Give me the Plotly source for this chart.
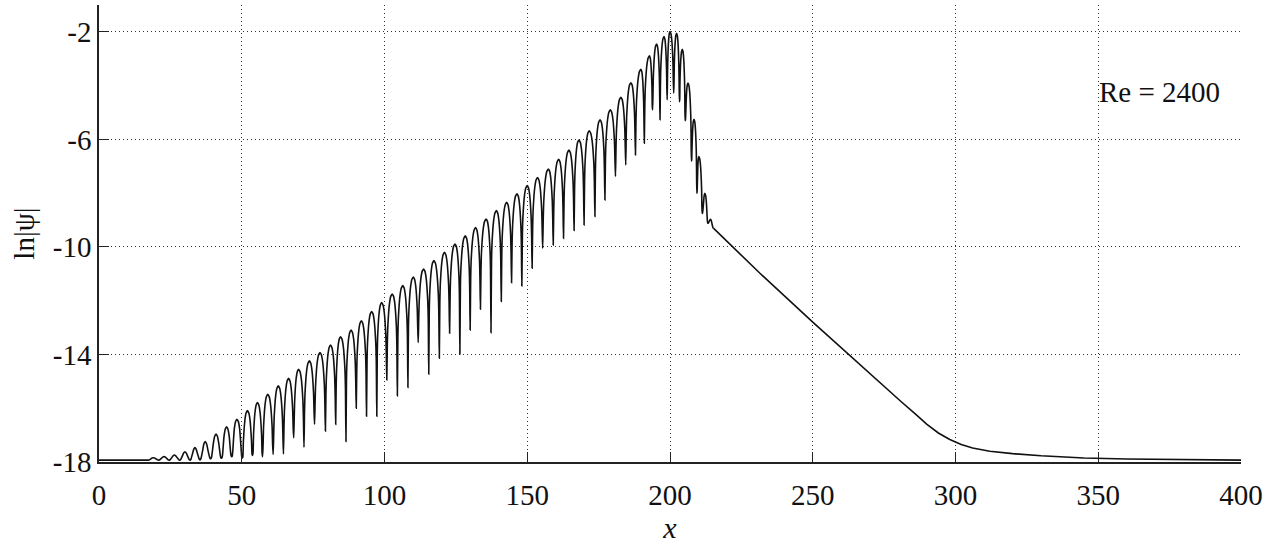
import plotly.graph_objects as go

# ---- values ----
base_x = [0.0, 17.3]
base_y = [-17.93, -17.93]

peak_x = [19.0, 22.8, 26.4, 30.1, 33.6, 37.2, 41.0, 44.7, 48.3, 52.0,
          55.5, 59.1, 62.8, 66.4, 69.9, 73.7, 77.4, 81.1, 84.6, 88.3,
          91.9, 95.5, 99.0, 102.7, 106.4, 110.1, 113.7, 117.3, 121.0, 124.7,
          128.3, 131.9, 135.6, 139.2, 142.8, 146.4, 150.0, 153.6, 157.4, 161.0,
          164.6, 168.1, 171.7, 175.5, 179.1, 182.8, 186.3, 189.8, 192.8, 195.3,
          197.9, 200.0, 202.3, 204.3, 206.3, 208.4, 210.1, 212.2, 214.2]
peak_y = [-17.84, -17.80, -17.74, -17.62, -17.46, -17.24, -16.96, -16.69, -16.41, -16.09,
          -15.79, -15.48, -15.17, -14.89, -14.55, -14.24, -13.93, -13.65, -13.34, -13.09,
          -12.75, -12.40, -12.07, -11.75, -11.44, -11.12, -10.82, -10.51, -10.20, -9.89,
          -9.59, -9.28, -8.96, -8.65, -8.34, -8.02, -7.72, -7.42, -7.10, -6.74,
          -6.40, -6.02, -5.68, -5.27, -4.90, -4.43, -3.89, -3.39, -2.89, -2.45,
          -2.17, -1.99, -2.05, -2.65, -3.90, -5.25, -6.64, -8.00, -8.97]

trough_x = [20.9, 24.6, 28.3, 31.9, 35.4, 39.1, 42.9, 46.5, 50.2, 53.8,
            57.3, 61.0, 64.6, 68.2, 71.8, 75.5, 79.3, 82.9, 86.5, 90.1,
            93.7, 97.3, 100.8, 104.5, 108.2, 111.8, 115.5, 119.2, 122.8, 126.4,
            130.0, 133.6, 137.3, 140.9, 144.5, 148.1, 151.7, 155.4, 159.1, 162.7,
            166.4, 169.9, 173.7, 177.2, 180.9, 184.5, 187.9, 191.0, 193.9, 196.5,
            199.0, 201.3, 203.3, 205.3, 207.5, 209.4, 211.3, 213.3]
trough_y = [-17.93, -17.93, -17.93, -17.93, -17.92, -17.88, -17.86, -17.80, -17.85, -17.76,
            -17.80, -17.72, -17.70, -17.10, -17.45, -16.60, -16.85, -16.60, -17.24, -16.00,
            -16.30, -16.30, -14.95, -15.54, -15.23, -13.56, -14.73, -14.14, -13.21, -13.98,
            -13.09, -12.32, -13.19, -12.03, -11.33, -11.45, -10.79, -10.05, -9.93, -9.68,
            -9.39, -9.18, -8.87, -8.25, -7.38, -6.95, -6.58, -6.14, -4.90, -5.27,
            -4.53, -4.28, -4.60, -5.30, -6.80, -8.00, -8.75, -9.12]

tail_x = [215.2, 222.2, 231.5, 250.0, 265.0, 275.0, 281.0, 286.0, 290.0, 294.0,
          298.0, 302.0, 306.0, 312.0, 320.0, 330.0, 345.0, 360.0, 380.0, 400.0]
tail_y = [-9.30, -10.03, -10.98, -12.80, -14.25, -15.20, -15.76, -16.22, -16.60, -16.92,
          -17.16, -17.35, -17.48, -17.60, -17.69, -17.77, -17.85, -17.89, -17.92, -17.93]

# hump outline seen in the picture: position (fraction of trough->peak run)
# and how far below the crest the line sits there
hump_frac = [0.1, 0.2, 0.5, 0.75]
hump_drop = [1.86, 1.17, 0.35, 0.08]
hump_soft = [0.98, 0.9, 0.5, 0.15]

x_ticks = [0, 50, 100, 150, 200, 250, 300, 350, 400]
y_ticks = [-2, -6, -10, -14, -18]

# ---- build the drawn path from the read extrema ----
left_x = [base_x[-1]] + trough_x
left_y = [base_y[-1]] + trough_y
right_x = trough_x + [tail_x[0]]
right_y = trough_y + [tail_y[0]]

xs = list(base_x)
ys = list(base_y)
for i in range(len(peak_x)):
    px_, py_ = peak_x[i], peak_y[i]
    lx, ly = left_x[i], left_y[i]
    rx, ry = right_x[i], right_y[i]
    for f, d, s in zip(hump_frac, hump_drop, hump_soft):
        xs.append(lx + f * (px_ - lx))
        ys.append(py_ - min(d, (py_ - ly) * s))
    xs.append(px_)
    ys.append(py_)
    for f, d, s in reversed(list(zip(hump_frac, hump_drop, hump_soft))):
        xs.append(rx - f * (rx - px_))
        ys.append(py_ - min(d, (py_ - ry) * s))
    if i < len(peak_x) - 1:
        xs.append(rx)
        ys.append(ry)
xs.append(tail_x[0])
ys.append(tail_y[0])

FONT = "Liberation Serif, Times New Roman, serif"
LINE = dict(color="#111111", width=1.6)

fig = go.Figure()
fig.add_trace(go.Scatter(x=xs, y=ys, mode="lines",
                         line=dict(**LINE, shape="spline", smoothing=0.6),
                         hoverinfo="skip", showlegend=False))
fig.add_trace(go.Scatter(x=tail_x, y=tail_y, mode="lines",
                         line=dict(**LINE, shape="linear"),
                         hoverinfo="skip", showlegend=False))

fig.add_annotation(x=349.6, y=-4.23, xref="x", yref="y", text="Re = 2400",
                   showarrow=False, xanchor="left", yanchor="middle",
                   font=dict(family=FONT, size=29, color="#111111"))

axis_common = dict(
    showline=True, linecolor="#222222", linewidth=1.5,
    ticks="inside", ticklen=10, tickwidth=1, tickcolor="#222222",
    showgrid=True, gridcolor="#333333", gridwidth=1, griddash="1px,3px",
    zeroline=False, mirror=False,
    tickfont=dict(family=FONT, size=29, color="#111111"),
)

fig.update_xaxes(range=[0, 400], tickvals=x_ticks, ticktext=[str(v) for v in x_ticks],
                 title=dict(text="<i>x</i>", font=dict(family=FONT, size=30, color="#111111"),
                            standoff=4),
                 ticklabelstandoff=6,
                 **axis_common)
fig.update_yaxes(range=[-18, -1], tickvals=y_ticks, ticktext=[str(v) for v in y_ticks],
                 title=dict(text="ln|ψ|", font=dict(family=FONT, size=29, color="#111111"),
                            standoff=10),
                 ticklabelstandoff=0,
                 **axis_common)

fig.update_layout(
    width=1268, height=545,
    margin=dict(l=99, r=27, t=5, b=83, autoexpand=False),
    paper_bgcolor="white", plot_bgcolor="white",
    font=dict(family=FONT, color="#111111"),
)

fig.write_html("out.html", config={"displayModeBar": False},
               post_script="document.body.style.margin='0';document.body.style.padding='0';")
